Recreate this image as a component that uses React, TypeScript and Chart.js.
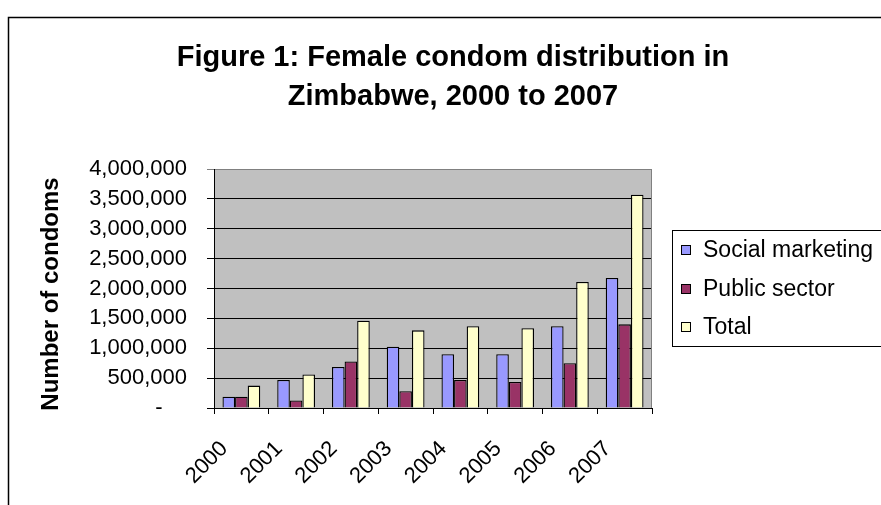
import React, { useEffect, useRef } from "react";
import { Chart, registerables } from "chart.js";

Chart.register(...registerables);

const years = ["2000", "2001", "2002", "2003", "2004", "2005", "2006", "2007"];
const socialMarketing = [190000, 470000, 685000, 1025000, 900000, 900000, 1370000, 2175000];
const publicSector = [190000, 125000, 780000, 280000, 470000, 435000, 750000, 1400000];
const total = [375000, 560000, 1460000, 1300000, 1370000, 1335000, 2110000, 3570000];
const seriesNames = ["Social marketing", "Public sector", "Total"];
const seriesColors = ["#9999FF", "#993366", "#FFFFCC"];
const titleLines = ["Figure 1: Female condom distribution in", "Zimbabwe, 2000 to 2007"];
const yAxisTitle = "Number of condoms";
const yMin = 0;
const yMax = 4000000;
const yStep = 500000;
const zeroLabel = "-    ";

const FONT = "'Liberation Sans', Arial, sans-serif";

const decorPlugin = {
  id: "decor",
  beforeDraw(chart: any) {
    const { ctx, chartArea: a } = chart;
    ctx.save();
    ctx.fillStyle = "#ffffff";
    ctx.fillRect(0, 0, chart.width, chart.height);
    ctx.fillStyle = "#C0C0C0";
    ctx.fillRect(a.left, a.top, a.right - a.left, a.bottom - a.top);
    ctx.restore();
  },
  afterDraw(chart: any) {
    const { ctx, chartArea: a } = chart;
    ctx.save();
    // plot area right border (gray)
    ctx.strokeStyle = "#808080";
    ctx.lineWidth = 1;
    ctx.beginPath();
    ctx.moveTo(a.right - 0.5, a.top);
    ctx.lineTo(a.right - 0.5, a.bottom);
    ctx.stroke();

    // outer frame
    ctx.strokeStyle = "#000";
    ctx.lineWidth = 1.5;
    ctx.beginPath();
    ctx.moveTo(8.5, chart.height + 2);
    ctx.lineTo(8.5, 17.5);
    ctx.lineTo(chart.width + 2, 17.5);
    ctx.stroke();

    // title
    ctx.fillStyle = "#000";
    ctx.font = `bold 29px ${FONT}`;
    ctx.textAlign = "center";
    ctx.textBaseline = "middle";
    titleLines.forEach((line, i) => ctx.fillText(line, 453, 58 + i * 39));

    // y axis title
    ctx.save();
    ctx.translate(51.5, 294);
    ctx.rotate(-Math.PI / 2);
    ctx.font = `bold 24px ${FONT}`;
    ctx.textAlign = "center";
    ctx.textBaseline = "middle";
    ctx.fillText(yAxisTitle, 0, 0);
    ctx.restore();

    // legend
    ctx.lineWidth = 1;
    ctx.strokeStyle = "#000";
    ctx.strokeRect(672.5, 230.5, 240, 116);
    ctx.font = `23px ${FONT}`;
    ctx.textAlign = "left";
    ctx.textBaseline = "middle";
    const ds = chart.data.datasets;
    ds.forEach((d: any, i: number) => {
      const y = 250 + i * 38.5;
      ctx.fillStyle = d.backgroundColor;
      ctx.fillRect(681, Math.round(y - 5), 10, 10);
      ctx.strokeRect(681.5, Math.round(y - 5) + 0.5, 9, 9);
      ctx.fillStyle = "#000";
      ctx.fillText(d.label, 703, y + 1);
    });
    ctx.restore();
  },
};

export default function App() {
  const ref = useRef<HTMLCanvasElement | null>(null);

  useEffect(() => {
    if (!ref.current) return;
    const seriesValues = [socialMarketing, publicSector, total];
    const chart = new Chart(ref.current, {
      type: "bar",
      data: {
        labels: years,
        datasets: seriesNames.map((name, i) => ({
          label: name,
          data: seriesValues[i],
          backgroundColor: seriesColors[i],
          borderColor: "#000",
          borderWidth: 1.3,
          categoryPercentage: 0.69,
          barPercentage: 1,
        })),
      },
      options: {
        responsive: false,
        animation: false,
        devicePixelRatio: 1,
        layout: { padding: { top: 169, right: 229, bottom: 0, left: 20 } },
        plugins: {
          legend: { display: false },
          title: { display: false },
          tooltip: { enabled: false },
        },
        scales: {
          x: {
            afterFit: (s: any) => {
              s.height = 505 - 408;
            },
            grid: {
              offset: true,
              drawOnChartArea: false,
              drawTicks: true,
              tickLength: 6,
              color: "#000",
            },
            border: { display: true, color: "#000", width: 1 },
            ticks: {
              autoSkip: false,
              minRotation: 45,
              maxRotation: 45,
              padding: 22,
              labelOffset: -17,
              color: "#000",
              font: { family: FONT, size: 22 },
            },
          },
          y: {
            min: yMin,
            max: yMax,
            afterFit: (s: any) => {
              s.width = 214 - 20;
            },
            grid: {
              color: (c: any) => (c.tick && c.tick.value === yMax ? "#808080" : "#000"),
              lineWidth: 1,
              drawTicks: true,
              tickLength: 7,
            },
            border: { display: true, color: "#000", width: 1 },
            ticks: {
              stepSize: yStep,
              padding: 20,
              color: "#000",
              font: { family: FONT, size: 22 },
              callback: (v: any) => (Number(v) === 0 ? zeroLabel : Number(v).toLocaleString("en-US")),
            },
            title: { display: false },
          },
        },
      },
      plugins: [decorPlugin],
    });
    return () => chart.destroy();
  }, []);

  return (
    <div style={{ position: "absolute", left: 0, top: 0, width: 881, height: 505, background: "#fff" }}>
      <canvas ref={ref} width={881} height={505} style={{ display: "block", width: 881, height: 505 }} />
    </div>
  );
}
